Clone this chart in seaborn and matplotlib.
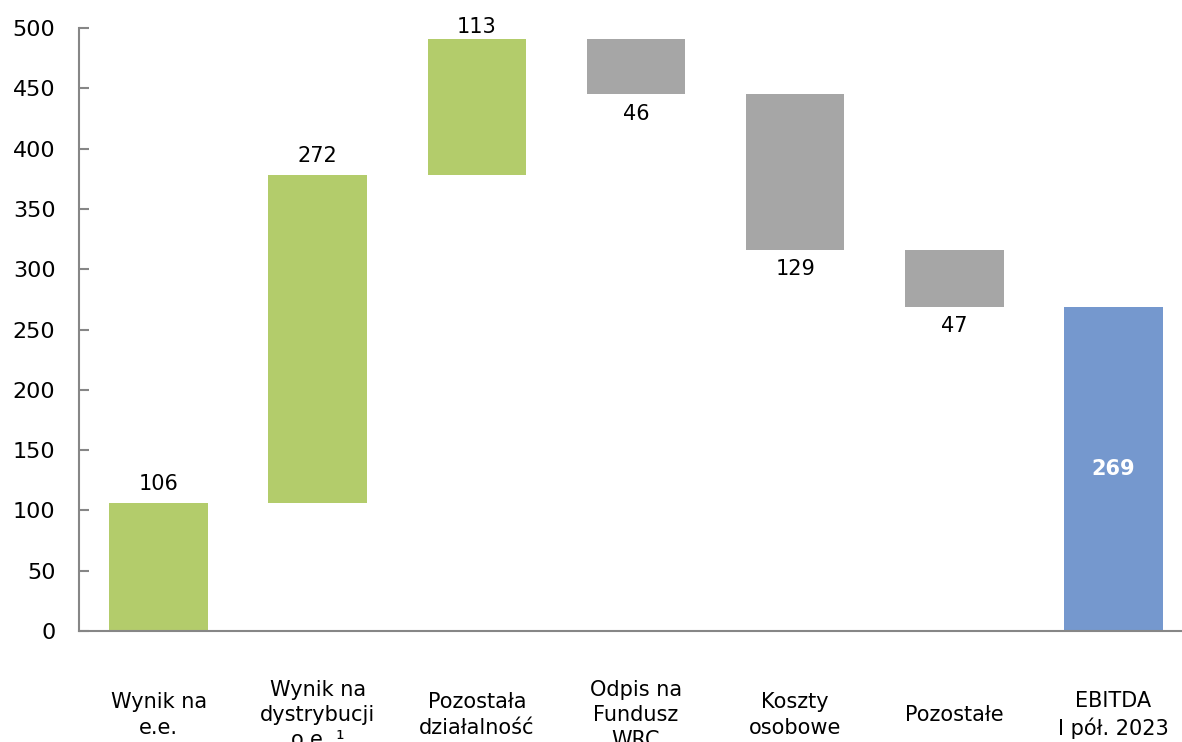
import numpy as np
import pandas as pd
import matplotlib
matplotlib.use("Agg")
import matplotlib.pyplot as plt
import matplotlib.transforms as mtransforms
import seaborn as sns

# Waterfall steps (mln zł)
categories = ["Wynik na\ne.e.", "Wynik na\ndystrybucji\no.e. \u00b9", "Pozostała\ndziałalność",
              "Odpis na\nFundusz\nWRC", "Koszty\nosobowe", "Pozostałe", "EBITDA\nI pół. 2023"]
changes = [106, 272, 113, -46, -129, -47]
total = 269
value_labels = ["106", "272", "113", "46", "129", "47", "269"]

GREEN = "#B3CC6B"
GREY = "#A6A6A6"
BLUE = "#7598CE"
AXIS = "#868686"

# Floating bar geometry built from the step values
running = np.concatenate([[0], np.cumsum(changes)])
bases = [min(running[i], running[i + 1]) for i in range(len(changes))] + [0]
heights = [abs(c) for c in changes] + [total]
colors = [GREEN if c > 0 else GREY for c in changes] + [BLUE]

df = pd.DataFrame({"cat": [c.replace("\n", " ") for c in categories], "h": heights})

sns.set_theme(style="white")
plt.rcParams["font.family"] = ["DejaVu Sans"]
plt.rcParams["text.color"] = "black"

fig = plt.figure(figsize=(11.82, 7.42), dpi=100)
ax = fig.add_axes([79 / 1182, 111 / 742, (1193 - 79) / 1182, 603 / 742])

sns.barplot(data=df, x="cat", y="h", bottom=bases, color=GREY, width=0.62,
            saturation=1, ax=ax, errorbar=None)
for patch, col in zip(ax.patches, colors):
    patch.set_facecolor(col)
    patch.set_edgecolor("none")

ax.set_ylim(0, 500)
ax.set_xlim(-0.5, 6.5)
ax.set_yticks(np.arange(0, 501, 50))
ax.set_xticks([])
ax.set_xlabel("")
ax.set_ylabel("")

for side in ["top", "right"]:
    ax.spines[side].set_visible(False)
for side in ["left", "bottom"]:
    ax.spines[side].set_color(AXIS)
    ax.spines[side].set_linewidth(1.5)
ax.tick_params(axis="y", direction="in", length=7, width=1.5, color=AXIS,
               pad=17, labelsize=16, labelcolor="black", left=True)
ax.tick_params(axis="x", length=0)

# Value labels: above rises, below falls, inside the total
for i, c in enumerate(changes):
    top = bases[i] + heights[i]
    if c > 0:
        y = min(top + 16, 501)
        ax.text(i, y, value_labels[i], ha="center", va="center", fontsize=15, color="black")
    else:
        ax.text(i, bases[i] - 16, value_labels[i], ha="center", va="center", fontsize=15, color="black")
ax.text(6, total / 2, value_labels[6], ha="center", va="center", fontsize=15,
        color="white", fontweight="bold")

# Category labels centred below the axis
trans = mtransforms.blended_transform_factory(ax.transData, ax.transAxes)
for i, lab in enumerate(categories):
    ax.text(i, -84 / 603, lab, transform=trans, ha="center", va="center",
            multialignment="center", fontsize=15, linespacing=1.32,
            color="black", clip_on=False)

fig.savefig("out.png", dpi=100)
